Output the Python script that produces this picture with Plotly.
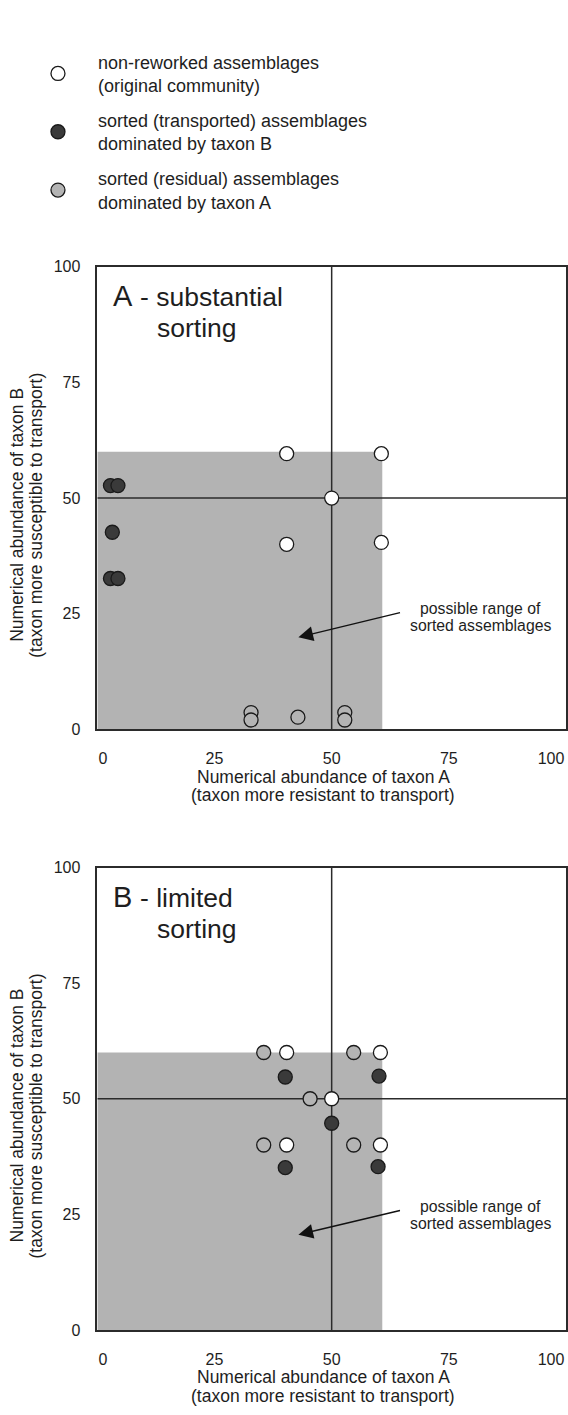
import plotly.graph_objects as go

W, H = 568, 1415
FONT = "Liberation Sans, Arial, sans-serif"
INK = "#1e1e1e"
LINE = "#2b2b2b"

# Axis ticks (end labels of the x axis are held inside the frame)
Y_TICKS = [0, 25, 50, 75, 100]
X_TICK_POS = [1.2, 25, 50, 75, 96.8]
TICK_TEXT = ["0", "25", "50", "75", "100"]

# Quadrant divisions and the envelope of possible sorted assemblages
QUAD_A = 50
QUAD_B = 50
SORT_MAX_A = 60.8
SORT_MAX_B = 60.0

LEGEND_NAMES = [
    "non-reworked assemblages<br>(original community)",
    "sorted (transported) assemblages<br>dominated by taxon B",
    "sorted (residual) assemblages<br>dominated by taxon A",
]

# Panel A - substantial sorting
a_orig_x = [40.4, 60.6, 50.0, 40.4, 60.6]
a_orig_y = [59.6, 59.6, 50.0, 40.0, 40.4]
a_trans_x = [2.8, 4.4, 3.2, 2.8, 4.4]
a_trans_y = [52.7, 52.7, 42.6, 32.6, 32.6]
a_resid_x = [32.8, 32.8, 42.8, 52.8, 52.8]
a_resid_y = [3.6, 2.0, 2.6, 3.6, 2.0]

# Panel B - limited sorting
b_orig_x = [40.4, 60.4, 50.0, 40.4, 60.4]
b_orig_y = [60.0, 60.0, 50.0, 40.0, 40.0]
b_trans_x = [40.1, 60.1, 50.0, 40.1, 59.9]
b_trans_y = [54.7, 54.9, 44.7, 35.1, 35.3]
b_resid_x = [35.5, 54.7, 45.4, 35.5, 54.7]
b_resid_y = [60.0, 60.0, 50.0, 40.0, 40.0]

FILLS = ["#ffffff", "#3a3a3a", "#b4b4b4"]

# plot-area placement in pixels
X_LEFT, X_RIGHT = 97.5, 567.0
PANELS = [
    dict(top=262, bottom=730, label="A", text1="- substantial", text2="sorting"),
    dict(top=870, bottom=1338, label="B", text1="- limited", text2="sorting"),
]


def px_x(p):
    return p / W


def px_y(p):
    return 1 - p / H


fig = go.Figure()

series = [
    [(a_orig_x, a_orig_y), (a_trans_x, a_trans_y), (a_resid_x, a_resid_y)],
    [(b_orig_x, b_orig_y), (b_trans_x, b_trans_y), (b_resid_x, b_resid_y)],
]

for pi, panel in enumerate(series):
    xa = "x" if pi == 0 else "x2"
    ya = "y" if pi == 0 else "y2"
    for si, (xs, ys) in enumerate(panel):
        fig.add_trace(go.Scatter(
            x=xs, y=ys, mode="markers", xaxis=xa, yaxis=ya,
            name=LEGEND_NAMES[si], legendgroup=f"g{si}",
            showlegend=(pi == 0),
            marker=dict(size=14, color=FILLS[si],
                        line=dict(color="#1a1a1a", width=1.3)),
            hoverinfo="skip",
        ))

axis_common = dict(
    range=[0, 100], showline=True, mirror=True, linecolor=LINE, linewidth=1.6,
    showgrid=False, zeroline=False, ticks="", fixedrange=True,
    tickfont=dict(family=FONT, size=16, color=INK),
)

annotations = []
shapes = []
for i, p in enumerate(PANELS):
    xn = "xaxis" if i == 0 else "xaxis2"
    yn = "yaxis" if i == 0 else "yaxis2"
    xr = "x" if i == 0 else "x2"
    yr = "y" if i == 0 else "y2"
    fig.layout[xn] = dict(axis_common, domain=[px_x(X_LEFT), px_x(X_RIGHT)],
                          anchor=yr, tickvals=X_TICK_POS, ticktext=TICK_TEXT,
                          ticklabelstandoff=14, ticklabeloverflow="allow")
    fig.layout[yn] = dict(axis_common, domain=[px_y(p["bottom"]), px_y(p["top"])],
                          anchor=xr, tickvals=Y_TICKS, ticktext=TICK_TEXT,
                          ticklabelstandoff=12)

    quad = QUAD_A if i == 0 else QUAD_B
    shapes += [
        dict(type="rect", xref=xr, yref=yr, x0=0, x1=SORT_MAX_A, y0=0, y1=SORT_MAX_B,
             fillcolor="#b3b3b3", line=dict(width=0), layer="below"),
        dict(type="line", xref=xr, yref=yr, x0=quad, x1=quad, y0=0, y1=100,
             line=dict(color=LINE, width=1.5), layer="below"),
        dict(type="line", xref=xr, yref=yr, x0=0, x1=100, y0=quad, y1=quad,
             line=dict(color=LINE, width=1.5), layer="below"),
    ]

    # arrow pointing into the envelope of sorted assemblages
    annotations.append(dict(
        xref=xr, yref=yr, axref=xr, ayref=yr,
        x=42.9, y=19.9 if i == 0 else 20.6, ax=64.9, ay=25.3 if i == 0 else 25.9,
        text="", showarrow=True, arrowhead=2, arrowsize=2.1, arrowwidth=1.4,
        arrowcolor="#111111",
    ))
    for txt, yy in (("possible range of", 26.1 if i == 0 else 26.7),
                    ("sorted assemblages", 22.4 if i == 0 else 23.1)):
        annotations.append(dict(xref=xr, yref=yr, x=81.7, y=yy, text=txt,
                                showarrow=False, xanchor="center", yanchor="middle",
                                font=dict(family=FONT, size=15.8, color=INK)))

    # panel heading
    top = p["top"]
    annotations += [
        dict(xref="paper", yref="paper", x=px_x(111), y=px_y(top + 30), text=p["label"],
             showarrow=False, xanchor="left", yanchor="middle",
             font=dict(family=FONT, size=29, color=INK)),
        dict(xref="paper", yref="paper", x=px_x(138), y=px_y(top + 31), text=p["text1"],
             showarrow=False, xanchor="left", yanchor="middle",
             font=dict(family=FONT, size=26.5, color=INK)),
        dict(xref="paper", yref="paper", x=px_x(155), y=px_y(top + 62), text=p["text2"],
             showarrow=False, xanchor="left", yanchor="middle",
             font=dict(family=FONT, size=26.5, color=INK)),
    ]

    # axis titles, one annotation per line
    bottom = p["bottom"]
    for txt, dy in (("Numerical abundance of taxon A", 48),
                    ("(taxon more resistant to transport)", 67)):
        annotations.append(dict(xref="paper", yref="paper", x=px_x(324), y=px_y(bottom + dy),
                                text=txt, showarrow=False, xanchor="center", yanchor="middle",
                                font=dict(family=FONT, size=17.5, color=INK)))
    yc = (top + bottom) / 2 + 17
    for txt, xx in (("Numerical abundance of taxon B", 17),
                    ("(taxon more susceptible to transport)", 36)):
        annotations.append(dict(xref="paper", yref="paper", x=px_x(xx), y=px_y(yc),
                                text=txt, textangle=-90, showarrow=False,
                                xanchor="center", yanchor="middle",
                                font=dict(family=FONT, size=17.5, color=INK)))

fig.update_layout(
    width=W, height=H,
    margin=dict(l=0, r=0, t=0, b=0),
    paper_bgcolor="white", plot_bgcolor="white",
    font=dict(family=FONT, color=INK),
    shapes=shapes, annotations=annotations,
    showlegend=True,
    legend=dict(
        x=px_x(18), y=px_y(36), xanchor="left", yanchor="top",
        font=dict(family=FONT, size=18, color=INK),
        itemwidth=70, tracegroupgap=8.5, bgcolor="rgba(0,0,0,0)",
        valign="middle", traceorder="grouped",
    ),
)

fig.write_html("out.html")
